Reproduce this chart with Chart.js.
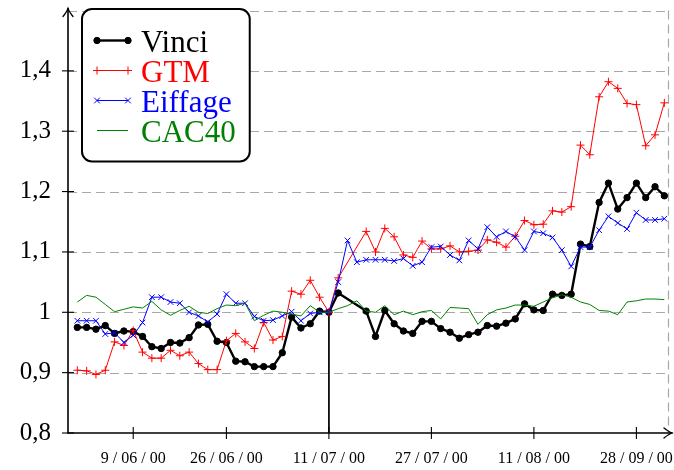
<!DOCTYPE html>
<html><head><meta charset="utf-8">
<script src="https://cdn.jsdelivr.net/npm/chart.js@4/dist/chart.umd.min.js"></script>
<style>html,body{margin:0;padding:0;background:#fff}#wrap{width:674px;height:470px}</style>
</head><body><div id="wrap"><canvas id="c" width="674" height="470"></canvas></div>
<script>
// ---- data ----
const tickIdx = [6, 16, 27, 38, 49, 60];
const tickLabels = ['9/06/00', '26/06/00', '11/07/00', '27/07/00', '11/08/00', '28/09/00'];
const seriesNames = ['Vinci', 'GTM', 'Eiffage', 'CAC40'];
const vinci = [0.975,0.975,0.972,0.978,0.965,0.969,0.968,0.960,0.943,0.940,0.950,0.949,0.958,0.979,0.980,0.952,0.950,0.919,0.918,0.910,0.910,0.910,0.933,0.992,0.974,0.981,1.002,1.000,1.032,null,null,1.002,0.960,1.003,0.981,0.969,0.965,0.985,0.985,0.973,0.967,0.957,0.963,0.967,0.978,0.977,0.982,0.989,1.014,1.004,1.003,1.030,1.028,1.030,1.113,1.109,1.182,1.214,1.171,1.190,1.214,1.190,1.208,1.193];
const gtm = [0.904,0.903,0.897,0.904,0.951,0.945,0.970,0.934,0.924,0.924,0.937,0.928,0.934,0.915,0.905,0.905,0.953,0.965,0.951,0.940,0.983,0.954,0.960,1.035,1.030,1.053,1.025,1.000,1.057,null,null,1.134,1.100,1.139,1.125,1.095,1.091,1.118,1.105,1.105,1.110,1.100,1.101,1.103,1.120,1.116,1.108,1.126,1.152,1.145,1.146,1.168,1.166,1.175,1.277,1.261,1.357,1.382,1.371,1.346,1.344,1.276,1.294,1.347];
const eiffage = [0.986,0.986,0.986,0.964,0.966,0.950,0.962,0.983,1.025,1.025,1.017,1.015,1.000,0.994,0.984,0.997,1.030,1.015,1.015,0.993,0.986,0.987,0.994,1.001,0.986,0.998,1.000,1.000,1.050,1.119,1.083,1.087,1.087,1.087,1.085,1.089,1.077,1.083,1.108,1.109,1.095,1.086,1.119,1.105,1.141,1.125,1.134,1.125,1.103,1.134,1.131,1.124,1.103,1.076,1.108,1.108,1.136,1.159,1.148,1.138,1.165,1.153,1.153,1.155];
const cac40 = [1.017,1.028,1.025,1.013,1.001,1.005,1.009,1.007,1.018,1.004,0.995,1.003,1.010,1.000,0.998,1.006,1.012,1.011,1.015,0.986,0.995,1.002,1.000,0.997,0.994,1.011,1.000,1.000,1.006,1.011,1.019,1.002,1.000,1.011,0.996,1.002,0.996,1.001,1.003,0.989,1.008,1.007,1.006,0.980,0.996,1.004,1.007,1.012,1.012,1.010,1.017,1.024,1.029,1.025,1.017,1.013,1.003,1.002,0.996,1.017,1.019,1.022,1.022,1.021];
const refLineIdx = 27;
const refLineValues = [1.0, 0.8];
const yMin = 0.8, yMax = 1.5, yStep = 0.1;
const xMin = -1, xMax = 63.5;

// ---- helpers ----
const toXY = arr => arr.map((v, i) => ({x: i, y: v}));
const SERIF = '"Liberation Serif", "DejaVu Serif", serif';
const GRID = '#a8a8a8';

function line(ctx, x1, y1, x2, y2) { ctx.beginPath(); ctx.moveTo(x1, y1); ctx.lineTo(x2, y2); ctx.stroke(); }

const gridPlugin = {
  id: 'gridPlugin',
  beforeDatasetsDraw(chart) {
    const {ctx, chartArea: a, scales: {y}} = chart;
    ctx.save();
    ctx.strokeStyle = GRID; ctx.lineWidth = 1.2; ctx.setLineDash([9, 5]);
    y.ticks.forEach(t => {
      if (t.value < yMin + 0.05) return;
      const py = Math.round(y.getPixelForValue(t.value)) + 0.5;
      line(ctx, a.left, py, a.right, py);
    });
    line(ctx, a.right - 0.5, a.top, a.right - 0.5, a.bottom);
    ctx.restore();
  }
};

const axesLegendPlugin = {
  id: 'axesLegend',
  afterDraw(chart) {
    const {ctx, chartArea: a, scales: {x, y}} = chart;
    ctx.save();
    ctx.setLineDash([]);
    ctx.strokeStyle = '#000'; ctx.lineWidth = 1.6; ctx.lineCap = 'round';
    // axes
    line(ctx, a.left, a.bottom, a.right + 3, a.bottom);
    line(ctx, a.left, a.bottom, a.left, a.top - 2);
    // arrow heads
    ctx.lineWidth = 1.3;
    const tipY = a.top - 2, tipX = a.right + 3;
    ctx.beginPath();
    ctx.moveTo(a.left - 5, tipY + 8); ctx.quadraticCurveTo(a.left - 1, tipY + 3, a.left, tipY);
    ctx.quadraticCurveTo(a.left + 1, tipY + 3, a.left + 5, tipY + 8); ctx.stroke();
    ctx.beginPath();
    ctx.moveTo(tipX - 8, a.bottom - 5); ctx.quadraticCurveTo(tipX - 3, a.bottom - 1, tipX, a.bottom);
    ctx.quadraticCurveTo(tipX - 3, a.bottom + 1, tipX - 8, a.bottom + 5); ctx.stroke();
    // tick marks
    ctx.lineWidth = 1.1; ctx.lineCap = 'butt';
    y.ticks.forEach(t => {
      if (t.value > yMax - 0.05) return;
      const py = y.getPixelForValue(t.value);
      line(ctx, a.left - 6, py, a.left + 6, py);
    });
    x.ticks.forEach(t => {
      const px = x.getPixelForValue(t.value);
      line(ctx, px, a.bottom - 6, px, a.bottom + 6);
    });
    // legend
    const items = chart.data.datasets.filter(d => seriesNames.includes(d.label));
    ctx.font = '31px ' + SERIF;
    const boxX = a.left + 14, boxY = a.top - 1.5;
    const sx1 = boxX + 15, sx2 = boxX + 46, textX = boxX + 59;
    const row0 = boxY + 31.5, rowH = 30;
    const maxW = Math.max(...items.map(d => ctx.measureText(d.label).width));
    const boxW = textX + maxW + 14 - boxX;
    const boxH = row0 + rowH * (items.length - 1) + 31 - boxY;
    ctx.beginPath();
    ctx.roundRect(boxX, boxY, boxW, boxH, 10);
    ctx.fillStyle = '#fff'; ctx.fill();
    ctx.strokeStyle = '#000'; ctx.lineWidth = 2; ctx.stroke();
    items.forEach((d, i) => {
      const yy = row0 + i * rowH;
      ctx.strokeStyle = d.borderColor; ctx.lineWidth = d.borderWidth;
      line(ctx, sx1, yy, sx2, yy);
      if (d.pointRadius > 0) {
        ctx.fillStyle = d.pointBackgroundColor; ctx.strokeStyle = d.pointBorderColor;
        ctx.lineWidth = d.pointBorderWidth;
        const opts = {pointStyle: d.pointStyle, radius: d.pointRadius, borderWidth: d.pointBorderWidth, rotation: 0};
        [sx1, sx2].forEach(px => Chart.helpers.drawPoint(ctx, opts, px, yy));
      }
      ctx.fillStyle = d.borderColor;
      ctx.textBaseline = 'alphabetic'; ctx.textAlign = 'left';
      ctx.font = '31px ' + SERIF;
      ctx.fillText(d.label, textX, yy + 11.5);
    });
    ctx.restore();
  }
};

const fmt = v => (Math.round(v * 10) / 10).toString().replace('.', ',');
const spaced = s => s.replace(/\//g, ' / ');

new Chart(document.getElementById('c'), {
  type: 'line',
  data: {
    datasets: [
      {label: seriesNames[0], data: toXY(vinci), borderColor: '#000', borderWidth: 2.4,
       pointStyle: 'circle', pointRadius: 3.2, pointBackgroundColor: '#000', pointBorderColor: '#000', pointBorderWidth: 1,
       spanGaps: true, tension: 0, order: 3},
      {label: seriesNames[1], data: toXY(gtm), borderColor: '#ff0000', borderWidth: 1,
       pointStyle: 'cross', pointRadius: 4, pointBackgroundColor: '#ff0000', pointBorderColor: '#ff0000', pointBorderWidth: 1,
       spanGaps: true, tension: 0, order: 2},
      {label: seriesNames[2], data: toXY(eiffage), borderColor: '#0000ff', borderWidth: 1,
       pointStyle: 'crossRot', pointRadius: 4, pointBackgroundColor: '#0000ff', pointBorderColor: '#0000ff', pointBorderWidth: 1,
       spanGaps: true, tension: 0, order: 1},
      {label: seriesNames[3], data: toXY(cac40), borderColor: '#008000', borderWidth: 1,
       pointRadius: 0, spanGaps: true, tension: 0, order: 0},
      {label: 'ref', data: refLineValues.map(v => ({x: refLineIdx, y: v})), borderColor: '#000', borderWidth: 1,
       pointRadius: 0, order: 4}
    ]
  },
  options: {
    responsive: false, animation: false, devicePixelRatio: 1,
    layout: {padding: {top: 10.5, right: 5, left: 0, bottom: 0}},
    plugins: {legend: {display: false}, tooltip: {enabled: false}},
    elements: {line: {borderJoinStyle: 'round'}},
    scales: {
      x: {
        type: 'linear', min: xMin, max: xMax,
        grid: {display: false, drawTicks: false}, border: {display: false},
        afterBuildTicks: s => { s.ticks = tickIdx.map(v => ({value: v})); },
        afterFit: s => { s.height = 37; s.paddingLeft = 0; s.paddingRight = 0; },
        ticks: {autoSkip: false, maxRotation: 0, padding: 16, color: '#000',
                font: {family: SERIF, size: 16},
                callback: (v, i) => spaced(tickLabels[i])}
      },
      y: {
        min: yMin, max: yMax,
        grid: {display: false, drawTicks: false}, border: {display: false},
        afterFit: s => { s.width = 68; s.paddingTop = 0; s.paddingBottom = 0; },
        ticks: {stepSize: yStep, padding: 17, color: '#000',
                font: {family: SERIF, size: 25},
                callback: v => (v > yMax - 0.05 ? '' : fmt(v))}
      }
    }
  },
  plugins: [gridPlugin, axesLegendPlugin]
});
</script>
</body></html>
